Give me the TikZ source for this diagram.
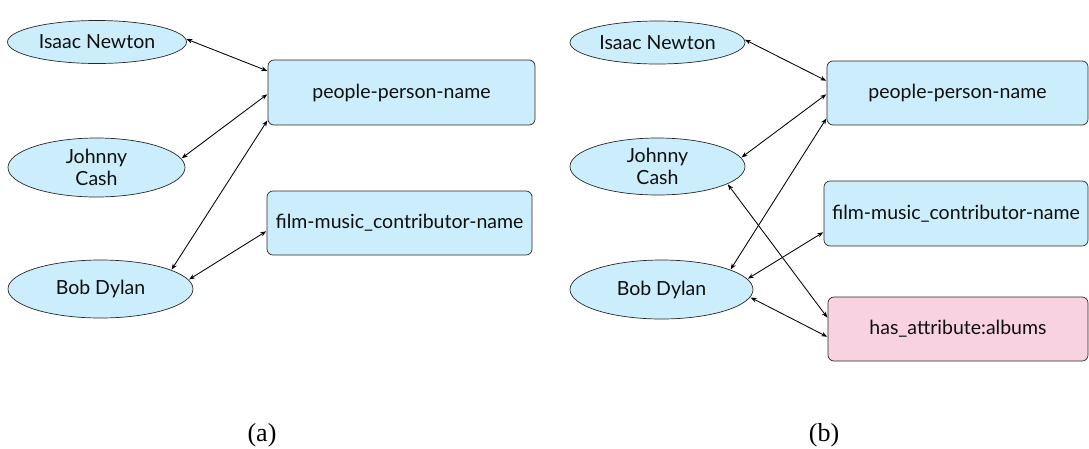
\documentclass[tikz,border=0pt]{standalone}
\usepackage{fontspec}
\setmainfont{Lato}
\newfontfamily\capfont{Liberation Serif}
\usetikzlibrary{shapes.geometric,arrows.meta}
\definecolor{entblue}{RGB}{204,238,252}
\definecolor{attrpink}{RGB}{248,210,224}
\definecolor{edgegray}{RGB}{40,40,40}
\definecolor{txt}{RGB}{15,15,15}
\tikzset{
  ent/.style={ellipse, draw=edgegray, line width=0.7pt, fill=entblue, inner sep=0pt,
    font=\fontsize{19.5}{22}\selectfont, text=txt, align=center},
  rel/.style={rectangle, rounded corners=6pt, draw=edgegray, line width=0.7pt, fill=entblue,
    inner sep=0pt, font=\fontsize{19.5}{22}\selectfont, text=txt},
  attr/.style={rel, fill=attrpink},
  arr/.style={{Stealth[length=6pt,width=4.5pt]}-{Stealth[length=6pt,width=4.5pt]}, line width=0.85pt, black, shorten <=0.5pt, shorten >=0.5pt},
  captext/.style={font=\capfont\fontsize{26}{28}\selectfont, inner sep=0pt}
}
\begin{document}
\begin{tikzpicture}[x=1pt,y=-1pt]
\useasboundingbox (0,0) rectangle (1089,448);
% ---------- panel (a) ----------
\node[ent, minimum width=179pt, minimum height=43pt] (inA) at (97,42) {Isaac Newton};
\node[ent, minimum width=177pt, minimum height=59pt] (jcA) at (96.5,167.5) {Johnny\\Cash};
\node[ent, minimum width=185pt, minimum height=58pt] (bdA) at (100.5,289) {Bob Dylan};
\node[rel, minimum width=267pt, minimum height=65pt] (ppA) at (401.5,92.5) {people-person-name};
\node[rel, minimum width=265pt, minimum height=64pt] (fmA) at (399.5,223) {film-music\_contributor-name};
\draw[arr] (inA.2.5) -- ([yshift=21.5pt]ppA.west);
\draw[arr] (jcA.6.8) -- ([yshift=-1.5pt]ppA.west);
\draw[arr] (bdA.15) -- ([yshift=-27.5pt]ppA.west);
\draw[arr] (bdA.6.5) -- ([yshift=-8pt]fmA.west);
\node[captext] (capA) at (262,435) {(a)};
% ---------- panel (b) ----------
\node[ent, minimum width=175pt, minimum height=43pt] (inB) at (657.5,42.5) {Isaac Newton};
\node[ent, minimum width=175pt, minimum height=57pt] (jcB) at (657.5,166.5) {Johnny\\Cash};
\node[ent, minimum width=183pt, minimum height=59pt] (bdB) at (661.5,289.5) {Bob Dylan};
\node[rel, minimum width=261pt, minimum height=64pt] (ppB) at (957.5,93) {people-person-name};
\node[rel, minimum width=264pt, minimum height=65pt] (fmB) at (956,213.5) {film-music\_contributor-name};
\node[attr, minimum width=260pt, minimum height=64pt] (haB) at (958,329) {has\_attribute:albums};
\draw[arr] (inB.2.3) -- ([yshift=12pt]ppB.west);
\draw[arr] (jcB.6.9) -- ([yshift=-1pt]ppB.west);
\draw[arr] (bdB.16.5) -- ([yshift=-25pt]ppB.west);
\draw[arr] (bdB.7.6) -- ([yshift=-18.5pt]fmB.west);
\draw[arr] (jcB.-14.1) -- ([yshift=11pt]haB.west);
\draw[arr] (bdB.-5.4) -- ([yshift=-8pt]haB.west);
\node[captext] (capB) at (824,435) {(b)};
\end{tikzpicture}
\end{document}
